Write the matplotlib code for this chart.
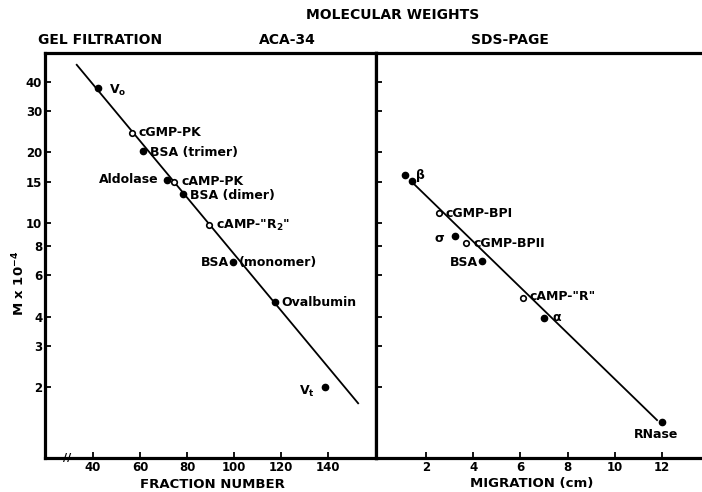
import matplotlib
matplotlib.use('Agg')
import matplotlib.pyplot as plt
import numpy as np

plt.rcParams['font.family'] = ['DejaVu Sans']
plt.rcParams['font.weight'] = 'bold'
plt.rcParams['mathtext.default'] = 'bf'

# ---------------- data ----------------
# Gel filtration (ACA-34)
gf_labels = ['$V_o$', 'cGMP-PK', 'BSA (trimer)', 'Aldolase', 'cAMP-PK', 'BSA (dimer)',
             'cAMP-"R$_2$"', 'BSA', 'Ovalbumin', '$V_t$']
gf_fraction = [42, 56.6, 61.3, 71.5, 74.5, 78.3, 89.4, 99.6, 117.4, 138.7]
gf_mw = [37.6, 24.3, 20.3, 15.3, 14.9, 13.3, 9.8, 6.8, 4.6, 2.0]
gf_open = [False, True, False, False, True, False, True, False, False, False]
gf_fit_fraction = [33.1, 152.8]
gf_fit_mw = [47.2, 1.71]

# SDS-PAGE
sds_labels = ['β', '', 'cGMP-BPI', 'σ', 'cGMP-BPII', 'BSA', 'cAMP-"R"', 'α', 'RNase']
sds_migration = [1.1, 1.4, 2.55, 3.23, 3.7, 4.38, 6.09, 7.0, 12.0]
sds_mw = [16.0, 15.1, 11.0, 8.85, 8.2, 6.9, 4.8, 3.95, 1.42]
sds_open = [False, False, True, False, True, False, True, False, False]
sds_fit_migration = [1.45, 11.79]
sds_fit_mw = [14.8, 1.45]

y_ticks = [2, 3, 4, 6, 8, 10, 15, 20, 30, 40]
gf_xticks = [40, 60, 80, 100, 120, 140]
sds_xticks = [2, 4, 6, 8, 10, 12]

# label placement (offset in points, alignment)
gf_label_pos = [(8, -2, 'left'), (5, 0, 'left'), (5, -1, 'left'), (-6, 0, 'right'),
                (5, 1, 'left'), (5, -1, 'left'), (5, 0, 'left'), (-3, 0, 'right'),
                (5, 0, 'left'), (-7, -3, 'right')]
sds_label_pos = [(8, 0, 'left'), (0, 0, 'left'), (5, 0, 'left'), (-8, -2, 'right'),
                 (5, 0, 'left'), (-3, -1, 'right'), (5, 1, 'left'), (6, 0, 'left'),
                 (-4, -9, 'center')]

# ---------------- figure ----------------
fig = plt.figure(figsize=(7.02, 4.92), dpi=100)
ax1 = fig.add_axes([45/702, 1-458/492, 331/702, 405/492])
ax2 = fig.add_axes([376/702, 1-458/492, 332/702, 405/492])

spine_lw = 2.3
for ax in (ax1, ax2):
    ax.set_yscale('log')
    ax.set_ylim(1.0, 53)
    ax.set_yticks(y_ticks)
    ax.minorticks_off()
    for s in ax.spines.values():
        s.set_linewidth(spine_lw)
    ax.tick_params(direction='in', length=4, width=1.3, labelsize=8.5)
    ax.tick_params(axis='x', pad=2)

# left panel
ax1.set_xlim(19.6, 160.4)
ax1.set_xticks(gf_xticks)
ax1.set_yticklabels([str(t) for t in y_ticks])
ax1.tick_params(axis='y', pad=2)
ax1.plot(gf_fit_fraction, gf_fit_mw, color='black', lw=1.3, zorder=1)
for f, m, o in zip(gf_fraction, gf_mw, gf_open):
    if o:
        ax1.plot(f, m, 'o', ms=4, mfc='white', mec='black', mew=1.2, zorder=3)
    else:
        ax1.plot(f, m, 'o', ms=4.5, mfc='black', mec='black', zorder=3)
for lab, f, m, (dx, dy, ha) in zip(gf_labels, gf_fraction, gf_mw, gf_label_pos):
    ax1.annotate(lab, (f, m), xytext=(dx, dy), textcoords='offset points',
                 ha=ha, va='center', fontsize=9, fontweight='bold')
ax1.annotate('(monomer)', (gf_fraction[7], gf_mw[7]), xytext=(4, 0), textcoords='offset points',
             ha='left', va='center', fontsize=9, fontweight='bold')
ax1.text(29, 1.0, '//', ha='center', va='center', fontsize=8, fontweight='bold')
ax1.set_ylabel('M x 10$^{-4}$', fontsize=9.5, fontweight='bold')
ax1.yaxis.set_label_coords(-(45 - 27) / 331, (458 - 283) / 405)
fig.text(212/702, 1-484/492, 'FRACTION NUMBER', ha='center', va='center', fontsize=9.5, fontweight='bold')

# right panel
ax2.set_xlim(-0.12, 13.95)
ax2.set_xticks(sds_xticks)
ax2.set_yticklabels([])
ax2.spines['right'].set_visible(False)
ax2.plot(sds_fit_migration, sds_fit_mw, color='black', lw=1.3, zorder=1)
for c, m, o in zip(sds_migration, sds_mw, sds_open):
    if o:
        ax2.plot(c, m, 'o', ms=4, mfc='white', mec='black', mew=1.2, zorder=3)
    else:
        ax2.plot(c, m, 'o', ms=4.5, mfc='black', mec='black', zorder=3)
for lab, c, m, (dx, dy, ha) in zip(sds_labels, sds_migration, sds_mw, sds_label_pos):
    if lab:
        ax2.annotate(lab, (c, m), xytext=(dx, dy), textcoords='offset points',
                     ha=ha, va='center', fontsize=9, fontweight='bold')
fig.text(532/702, 1-484/492, 'MIGRATION (cm)', ha='center', va='center', fontsize=9.5, fontweight='bold')

# headers
fig.text(393/702, 1-15/492, 'MOLECULAR WEIGHTS', ha='center', va='center', fontsize=10, fontweight='bold')
fig.text(38/702, 1-40/492, 'GEL FILTRATION', ha='left', va='center', fontsize=10, fontweight='bold')
fig.text(287/702, 1-40/492, 'ACA-34', ha='center', va='center', fontsize=10, fontweight='bold')
fig.text(510/702, 1-40/492, 'SDS-PAGE', ha='center', va='center', fontsize=10, fontweight='bold')

fig.savefig('out.png', dpi=100)
